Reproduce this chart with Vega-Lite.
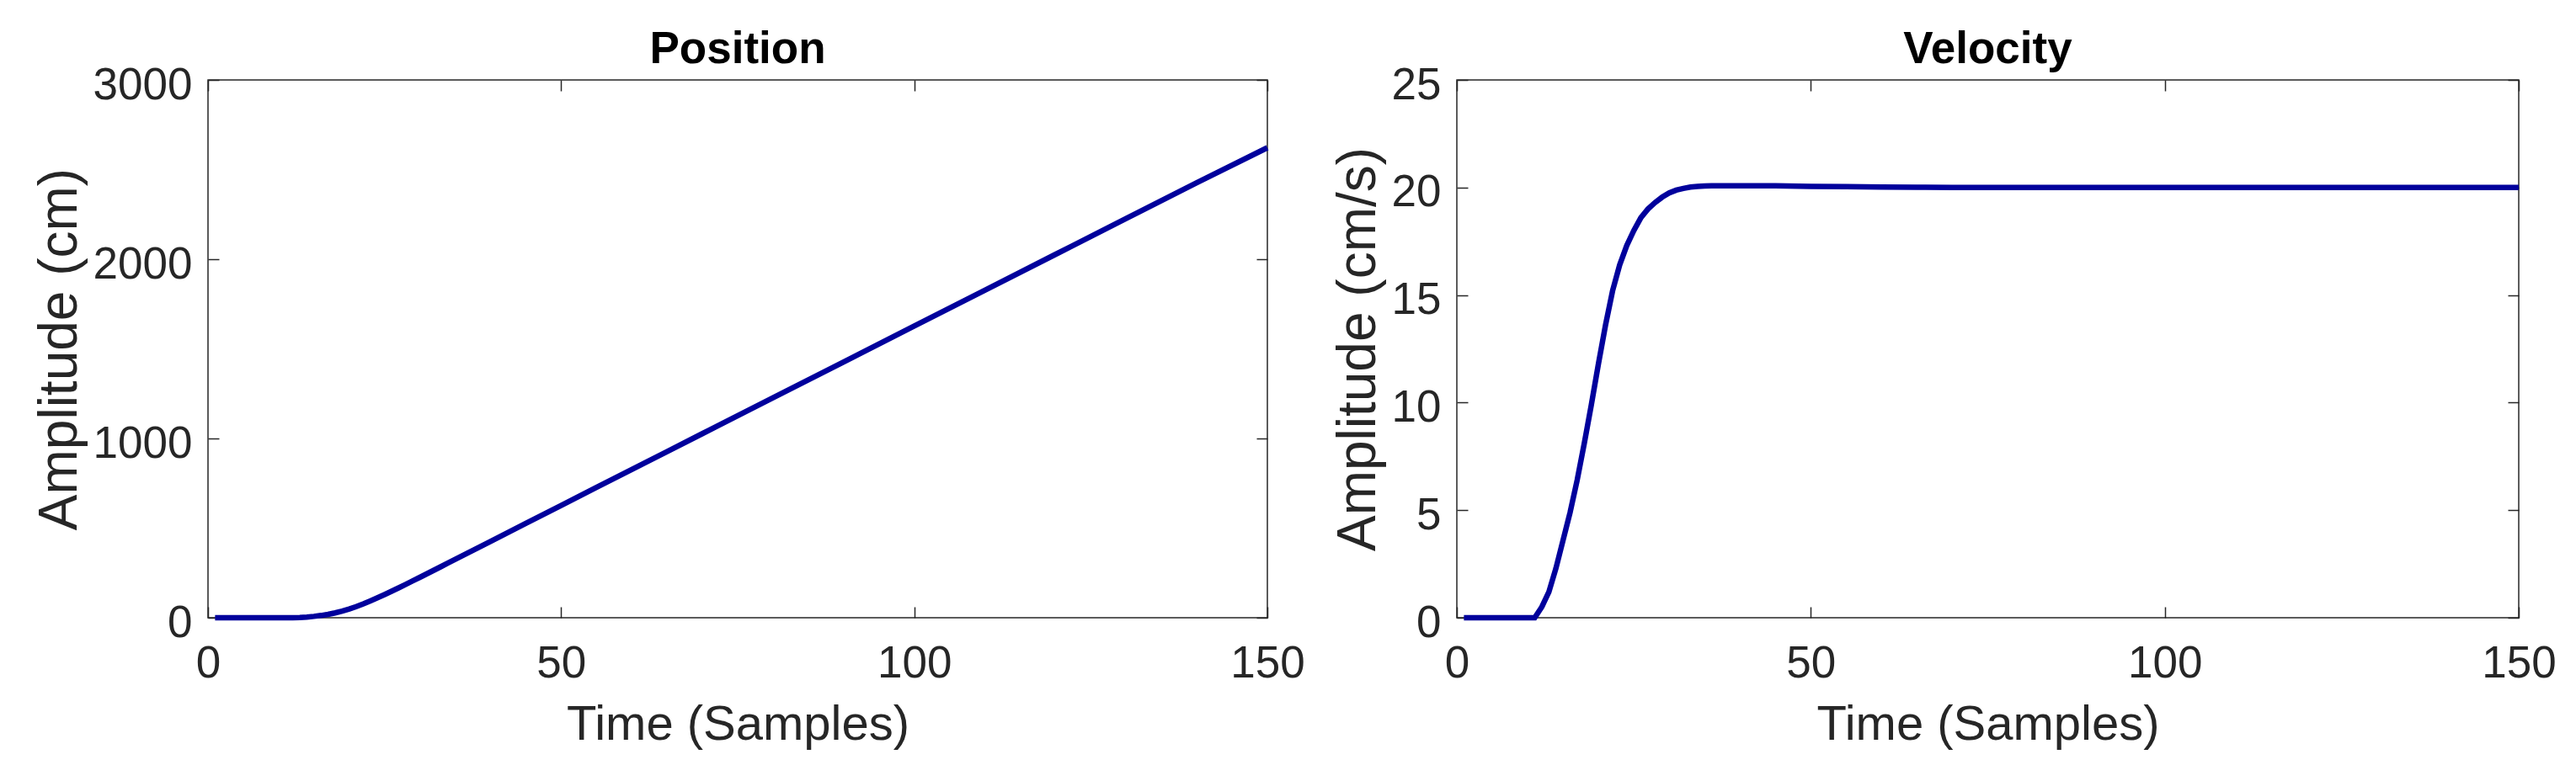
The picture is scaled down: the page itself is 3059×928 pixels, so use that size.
{
  "$schema": "https://vega.github.io/schema/vega-lite/v6.json",
  "background": "white",
  "padding": {"left": 38, "top": 32, "right": 0, "bottom": 0},
  "datasets": {
    "d": [
      {"t": 1, "pos": 0, "vel": 0}, {"t": 2, "pos": 0, "vel": 0}, {"t": 3, "pos": 0, "vel": 0},
      {"t": 4, "pos": 0, "vel": 0}, {"t": 5, "pos": 0, "vel": 0}, {"t": 6, "pos": 0, "vel": 0},
      {"t": 7, "pos": 0, "vel": 0}, {"t": 8, "pos": 0, "vel": 0}, {"t": 9, "pos": 0, "vel": 0},
      {"t": 10, "pos": 0, "vel": 0}, {"t": 11, "pos": 0, "vel": 0},
      {"t": 12, "pos": 0.5, "vel": 0.5}, {"t": 13, "pos": 1.7, "vel": 1.2},
      {"t": 14, "pos": 4.0, "vel": 2.3}, {"t": 15, "pos": 7.6, "vel": 3.6},
      {"t": 16, "pos": 12.5, "vel": 4.9}, {"t": 17, "pos": 18.9, "vel": 6.4},
      {"t": 18, "pos": 27.0, "vel": 8.1}, {"t": 19, "pos": 36.9, "vel": 9.9},
      {"t": 20, "pos": 48.7, "vel": 11.8}, {"t": 21, "pos": 62.3, "vel": 13.6},
      {"t": 22, "pos": 77.5, "vel": 15.2}, {"t": 23, "pos": 93.9, "vel": 16.4},
      {"t": 24, "pos": 111.2, "vel": 17.3}, {"t": 25, "pos": 129.2, "vel": 18.0},
      {"t": 26, "pos": 147.8, "vel": 18.6}, {"t": 27, "pos": 166.8, "vel": 19.0},
      {"t": 28, "pos": 186.1, "vel": 19.3}, {"t": 29, "pos": 205.7, "vel": 19.55},
      {"t": 30, "pos": 225.4, "vel": 19.75}, {"t": 31, "pos": 245.3, "vel": 19.88},
      {"t": 32, "pos": 265.3, "vel": 19.96}, {"t": 33, "pos": 285.3, "vel": 20.02},
      {"t": 34, "pos": 305.3, "vel": 20.05}, {"t": 35, "pos": 325.4, "vel": 20.07},
      {"t": 36, "pos": 345.5, "vel": 20.08}, {"t": 37, "pos": 365.6, "vel": 20.08},
      {"t": 38, "pos": 385.7, "vel": 20.08}, {"t": 39, "pos": 405.7, "vel": 20.08},
      {"t": 40, "pos": 425.8, "vel": 20.08}, {"t": 45, "pos": 526.2, "vel": 20.08},
      {"t": 50, "pos": 626.5, "vel": 20.05}, {"t": 55, "pos": 726.8, "vel": 20.04},
      {"t": 60, "pos": 826.9, "vel": 20.02}, {"t": 65, "pos": 927.0, "vel": 20.01},
      {"t": 70, "pos": 1027, "vel": 20.0}, {"t": 80, "pos": 1227, "vel": 20.0},
      {"t": 90, "pos": 1427, "vel": 20.0}, {"t": 100, "pos": 1627, "vel": 20.0},
      {"t": 110, "pos": 1827, "vel": 20.0}, {"t": 120, "pos": 2027, "vel": 20.0},
      {"t": 130, "pos": 2227, "vel": 20.0}, {"t": 140, "pos": 2427, "vel": 20.0},
      {"t": 150, "pos": 2622, "vel": 20.0}
    ]
  },
  "spacing": 30,
  "hconcat": [
    {
      "width": 1258,
      "height": 639,
      "title": {"text": "Position"},
      "data": {"name": "d"},
      "layer": [
        {
          "mark": {"type": "line", "color": "#00009c", "strokeWidth": 6.5},
          "encoding": {
            "x": {"field": "t", "type": "quantitative", "scale": {"domain": [0, 150], "nice": false},
                  "axis": {"orient": "bottom", "title": "Time (Samples)", "values": [0, 50, 100, 150], "format": "d",
                           "titleFontSize": 58, "labelPadding": 41, "titlePadding": 17}},
            "y": {"field": "pos", "type": "quantitative", "scale": {"domain": [0, 3000], "nice": false},
                  "axis": {"orient": "left", "title": "Amplitude (cm)", "values": [0, 1000, 2000, 3000], "format": "d",
                           "titleFontSize": 64, "labelPadding": 32, "titlePadding": 7, "labelOffset": 6}}
          }
        },
        {
          "mark": {"type": "line", "opacity": 0},
          "encoding": {
            "x": {"field": "t", "type": "quantitative",
                  "axis": {"orient": "top", "title": null, "labels": false, "values": [0, 50, 100, 150]}},
            "y": {"field": "pos", "type": "quantitative",
                  "axis": {"orient": "right", "title": null, "labels": false, "values": [0, 1000, 2000, 3000]}}
          }
        }
      ],
      "resolve": {"axis": {"x": "independent", "y": "independent"}}
    },
    {
      "width": 1261,
      "height": 639,
      "title": {"text": "Velocity"},
      "data": {"name": "d"},
      "layer": [
        {
          "mark": {"type": "line", "color": "#00009c", "strokeWidth": 6.5},
          "encoding": {
            "x": {"field": "t", "type": "quantitative", "scale": {"domain": [0, 150], "nice": false},
                  "axis": {"orient": "bottom", "title": "Time (Samples)", "values": [0, 50, 100, 150], "format": "d",
                           "titleFontSize": 58, "labelPadding": 41, "titlePadding": 17}},
            "y": {"field": "vel", "type": "quantitative", "scale": {"domain": [0, 25], "nice": false},
                  "axis": {"orient": "left", "title": "Amplitude (cm/s)", "values": [0, 5, 10, 15, 20, 25], "format": "d",
                           "titleFontSize": 64, "labelPadding": 32, "titlePadding": 7, "labelOffset": 6}}
          }
        },
        {
          "mark": {"type": "line", "opacity": 0},
          "encoding": {
            "x": {"field": "t", "type": "quantitative",
                  "axis": {"orient": "top", "title": null, "labels": false, "values": [0, 50, 100, 150]}},
            "y": {"field": "vel", "type": "quantitative",
                  "axis": {"orient": "right", "title": null, "labels": false, "values": [0, 5, 10, 15, 20, 25]}}
          }
        }
      ],
      "resolve": {"axis": {"x": "independent", "y": "independent"}}
    }
  ],
  "config": {
    "view": {"stroke": "#262626", "strokeWidth": 1.5},
    "axis": {
      "labelFont": "Liberation Sans", "labelFontSize": 53, "labelColor": "#262626",
      "titleFont": "Liberation Sans", "titleFontWeight": "normal", "titleColor": "#262626",
      "tickColor": "#262626", "tickSize": -13, "tickWidth": 1.5,
      "domain": false, "grid": false, "labelFlush": false, "labelOverlap": false
    },
    "title": {
      "font": "Liberation Sans", "fontSize": 53, "fontWeight": "bold", "color": "#000000",
      "anchor": "middle", "baseline": "alphabetic", "offset": -11
    }
  }
}
